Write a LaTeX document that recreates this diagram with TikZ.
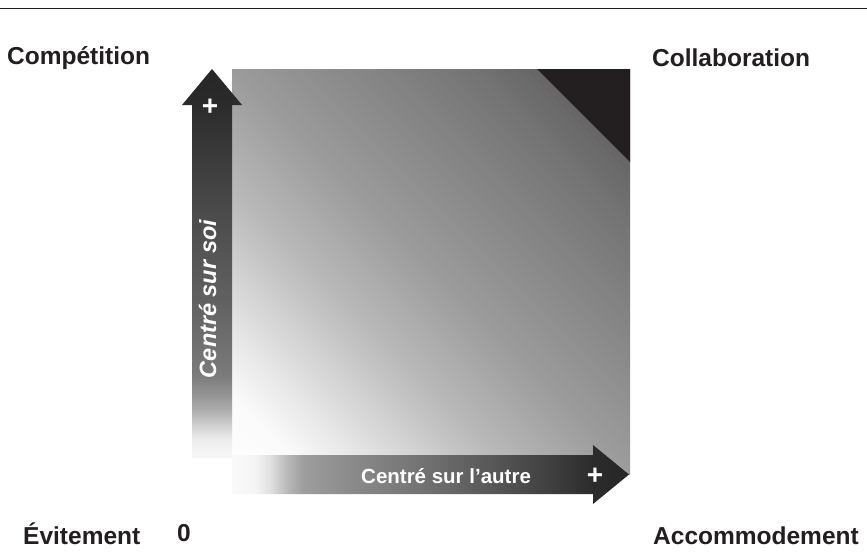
\documentclass[tikz,border=0pt]{standalone}
\usepackage{fontspec}
\setmainfont{Liberation Sans}
\definecolor{ink}{HTML}{231F20}
\pgfdeclareverticalshading{vshade}{100bp}{%
  color(0bp)=(black!3); color(25bp)=(black!3); color(27.3bp)=(black!7);
  color(29.2bp)=(black!18); color(31.2bp)=(black!32); color(33.1bp)=(black!42);
  color(35.7bp)=(black!52); color(45.3bp)=(black!62); color(58.2bp)=(black!72);
  color(70.4bp)=(black!83); color(75bp)=(black!85); color(100bp)=(black!85)}
\pgfdeclarehorizontalshading{hshade}{100bp}{%
  color(0bp)=(black!2); color(25bp)=(black!2); color(27.9bp)=(black!4);
  color(29.8bp)=(black!12); color(31.7bp)=(black!26); color(33.9bp)=(black!38);
  color(39.2bp)=(black!45); color(46.2bp)=(black!52); color(58.8bp)=(black!67);
  color(66.3bp)=(black!77); color(70.5bp)=(black!83); color(75bp)=(black!85);
  color(100bp)=(black!85)}
\pgfdeclarehorizontalshading{sqshade}{100bp}{%
  color(0bp)=(white); color(25bp)=(white); color(30bp)=(black!2);
  color(35bp)=(black!12); color(42.5bp)=(black!28); color(50bp)=(black!40);
  color(57.5bp)=(black!48); color(65bp)=(black!56); color(70bp)=(black!63);
  color(75bp)=(black!68); color(100bp)=(black!68)}
\begin{document}
\begin{tikzpicture}[x=1pt,y=-1pt,
  lab/.style={font=\fontsize{24.5}{29}\selectfont\bfseries, text=ink, inner sep=0pt, anchor=base west},
  plus/.style={font=\fontsize{28}{32}\selectfont\bfseries, text=white, inner sep=0pt},
  hatch/.style={white, opacity=0.08, line width=0.6pt}]
\useasboundingbox (0,0) rectangle (867,554);
\fill[white] (0,0) rectangle (867,554);
\draw[ink, line width=1pt] (0,8) -- (867,8);
% square with diagonal gradient
\begin{scope}
  \clip (232,69) rectangle (630,474);
  \begin{scope}[transform canvas={rotate around={45:(431,271.5)}}]
    \shade[shading=sqshade] (147,-128.5) rectangle (715,671.5);
    \foreach \k in {-284,-282,...,284} {
      \draw[hatch] (431+\k,-128.5) -- (431+\k,671.5);
    }
  \end{scope}
  \fill[ink] (537,69) -- (630,69) -- (630,162) -- cycle;
\end{scope}
% vertical arrow
\shade[shading=vshade] (192,458) -- (192,105) -- (182,105) -- (212,69) -- (242,105) -- (232,105) -- (232,458) -- cycle;
% horizontal arrow
\shade[shading=hshade] (232,455) -- (593,455) -- (593,445) -- (629,474.5) -- (593,504) -- (593,494) -- (232,494) -- cycle;
% labels
\node[lab] (comp) at (7,64) {Compétition};
\node[lab] (coll) at (652,66) {Collaboration};
\node[lab] (evit) at (23,544) {Évitement};
\node[lab] (acco) at (653,544) {Accommodement};
\node[lab] (zero) at (177,541) {0};
\node[font=\fontsize{23.5}{28}\selectfont\bfseries\itshape, text=white, inner sep=0pt, rotate=90, anchor=base] (soi) at (216,299) {Centré sur soi};
\node[font=\fontsize{20.5}{24}\selectfont\bfseries, text=white, inner sep=0pt, anchor=base west] (autre) at (361,483) {Centré sur l’autre};
\node[plus] (plusv) at (210,107) {+};
\node[plus] (plush) at (595,476) {+};
\end{tikzpicture}
\end{document}
